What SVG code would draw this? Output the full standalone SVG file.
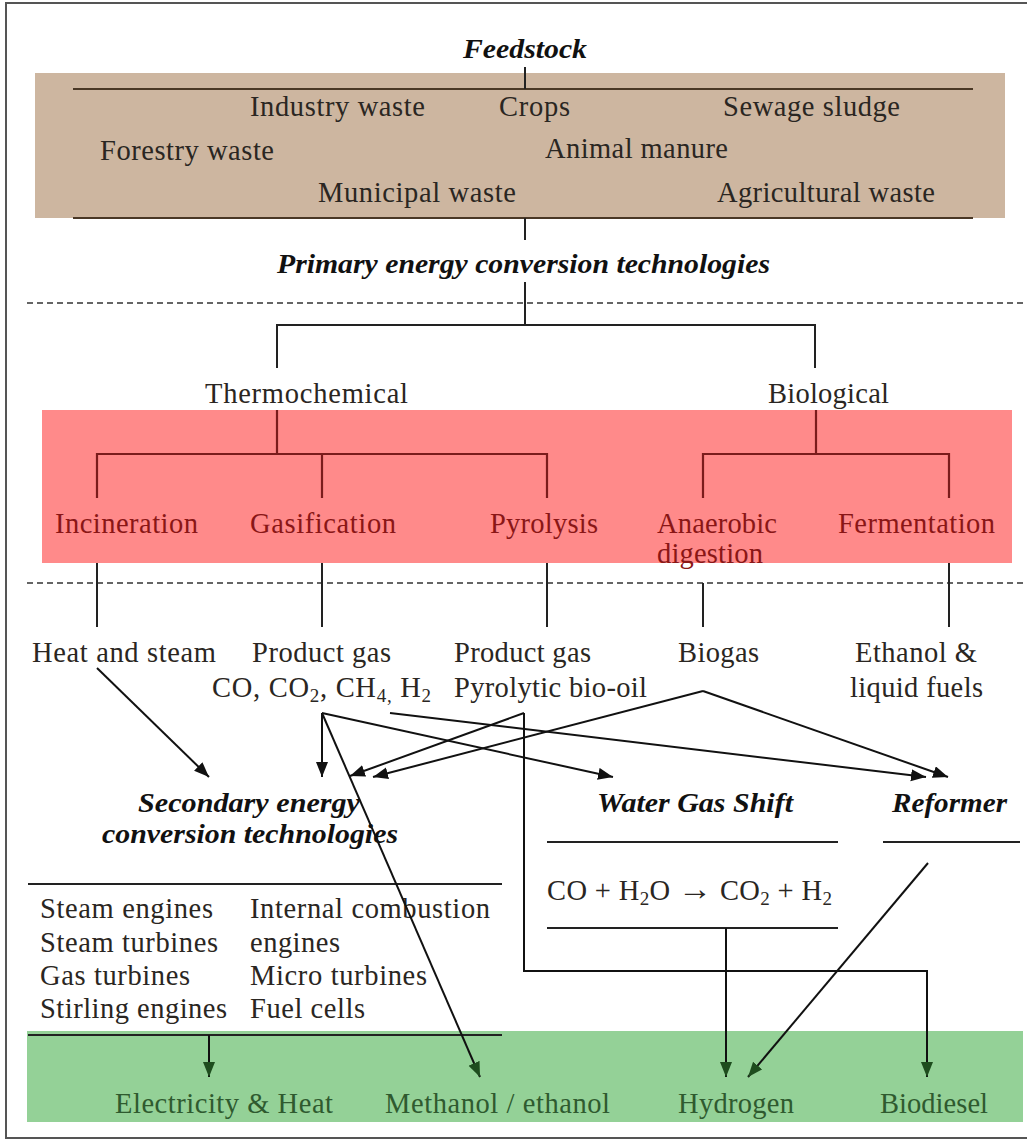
<svg xmlns="http://www.w3.org/2000/svg" width="1027" height="1141" viewBox="0 0 1027 1141">
<defs>
<style>
.t{font-family:"Liberation Serif","Times New Roman",serif;font-size:28.5px;fill:#2a2622}
.h{font-family:"Liberation Serif","Times New Roman",serif;font-size:27px;font-weight:bold;font-style:italic;fill:#111}
.r{fill:#8a1616}
.g{fill:#2f5a2f}
.ln{stroke:#222;stroke-width:2;fill:none}
.br{stroke:#4a3826;stroke-width:2.2;fill:none}
.rl{stroke:#7a1c1c;stroke-width:2.2;fill:none}
.dash{stroke:#333;stroke-width:1.5;stroke-dasharray:6 4;fill:none}
.ar{stroke:#111;stroke-width:2;fill:none;marker-end:url(#ah)}
.ag{stroke:#111;stroke-width:2;fill:none;marker-end:url(#ahg)}
</style>
<marker id="ah" markerUnits="userSpaceOnUse" markerWidth="16" markerHeight="14" refX="15" refY="6" orient="auto"><path d="M0,0 L15,6 L0,12 z" fill="#111"/></marker>
<marker id="ahg" markerUnits="userSpaceOnUse" markerWidth="16" markerHeight="14" refX="15" refY="6" orient="auto"><path d="M0,0 L15,6 L0,12 z" fill="#1e4d1e"/></marker>
</defs>
<rect x="0" y="0" width="1027" height="1141" fill="#fff"/>
<rect x="6" y="3" width="1030" height="1135" fill="none" stroke="#555" stroke-width="2"/>

<g id="bands">
<rect x="35" y="73" width="970" height="145" fill="#cdb6a0"/>
<rect x="42" y="410" width="970" height="153" fill="#ff8a8a"/>
<rect x="27" y="1031" width="996" height="91" fill="#94d197"/>
</g>

<g id="feedstock">
<text class="h" x="463" y="58" textLength="124" lengthAdjust="spacingAndGlyphs">Feedstock</text>
<line class="br" x1="73" y1="89" x2="973" y2="89"/>
<line class="br" x1="73" y1="218" x2="973" y2="218"/>
<text class="t" x="250" y="116" textLength="175">Industry waste</text>
<text class="t" x="499" y="116" textLength="71">Crops</text>
<text class="t" x="723" y="116" textLength="177">Sewage sludge</text>
<text class="t" x="100" y="160" textLength="174">Forestry waste</text>
<text class="t" x="545" y="158" textLength="183">Animal manure</text>
<text class="t" x="318" y="202" textLength="198">Municipal waste</text>
<text class="t" x="717" y="202" textLength="218">Agricultural waste</text>
</g>

<g id="primary">
<text class="h" x="277" y="273" textLength="493" lengthAdjust="spacingAndGlyphs">Primary energy conversion technologies</text>
</g>
<line class="dash" x1="27" y1="303" x2="1027" y2="303"/>
<line class="dash" x1="27" y1="583" x2="1027" y2="583"/>

<g id="thermochemical"><text class="t" x="205" y="403" textLength="203">Thermochemical</text></g>
<g id="biological"><text class="t" x="768" y="403" textLength="121">Biological</text></g>

<g id="incineration"><text class="t r" x="55" y="533" textLength="143">Incineration</text></g>
<g id="gasification"><text class="t r" x="250" y="533" textLength="146">Gasification</text></g>
<g id="pyrolysis"><text class="t r" x="490" y="533" textLength="108">Pyrolysis</text></g>
<g id="anaerobic"><text class="t r" x="657" y="533" textLength="120">Anaerobic</text><text class="t r" x="657" y="563" textLength="106">digestion</text></g>
<g id="fermentation"><text class="t r" x="838" y="533" textLength="157">Fermentation</text></g>

<g id="heat-steam"><text class="t" x="32" y="662" textLength="184">Heat and steam</text></g>
<g id="product-gas-1"><text class="t" x="252" y="662" textLength="139">Product gas</text>
<text class="t" x="212" y="697" textLength="219">CO, CO<tspan font-size="19" dy="5">2</tspan><tspan dy="-5">, CH</tspan><tspan font-size="19" dy="5">4,</tspan><tspan dy="-5"> H</tspan><tspan font-size="19" dy="5">2</tspan></text></g>
<g id="product-gas-2"><text class="t" x="454" y="662" textLength="137">Product gas</text>
<text class="t" x="454" y="697" textLength="193">Pyrolytic bio-oil</text></g>
<g id="biogas"><text class="t" x="678" y="662" textLength="81">Biogas</text></g>
<g id="ethanol-liquid"><text class="t" x="855" y="662" textLength="122">Ethanol &amp;</text>
<text class="t" x="850" y="697" textLength="133">liquid fuels</text></g>

<g id="secondary">
<text class="h" x="138" y="812" textLength="222" lengthAdjust="spacingAndGlyphs">Secondary energy</text>
<text class="h" x="102" y="843" textLength="296" lengthAdjust="spacingAndGlyphs">conversion technologies</text>
<line class="ln" x1="28" y1="884" x2="502" y2="884"/>
<line class="ln" x1="28" y1="1035" x2="502" y2="1035"/>
<text class="t" x="40" y="918" textLength="173">Steam engines</text>
<text class="t" x="40" y="952" textLength="178">Steam turbines</text>
<text class="t" x="40" y="985" textLength="150">Gas turbines</text>
<text class="t" x="40" y="1018" textLength="187">Stirling engines</text>
<text class="t" x="250" y="918" textLength="240">Internal combustion</text>
<text class="t" x="250" y="952" textLength="90">engines</text>
<text class="t" x="250" y="985" textLength="177">Micro turbines</text>
<text class="t" x="250" y="1018" textLength="115">Fuel cells</text>
</g>

<g id="water-gas-shift">
<text class="h" x="597" y="812" textLength="196" lengthAdjust="spacingAndGlyphs">Water Gas Shift</text>
<line class="ln" x1="547" y1="842" x2="838" y2="842"/>
<text class="t" x="547" y="900" textLength="285">CO + H<tspan font-size="19" dy="5">2</tspan><tspan dy="-5">O </tspan><tspan font-size="34">→</tspan><tspan> CO</tspan><tspan font-size="19" dy="5">2</tspan><tspan dy="-5"> + H</tspan><tspan font-size="19" dy="5">2</tspan></text>
<line class="ln" x1="547" y1="928" x2="838" y2="928"/>
</g>

<g id="reformer">
<text class="h" x="892" y="812" textLength="115" lengthAdjust="spacingAndGlyphs">Reformer</text>
<line class="ln" x1="883" y1="842" x2="1020" y2="842"/>
</g>

<g id="electricity-heat"><text class="t g" x="115" y="1113" textLength="218">Electricity &amp; Heat</text></g>
<g id="methanol-ethanol"><text class="t g" x="385" y="1113" textLength="225">Methanol / ethanol</text></g>
<g id="hydrogen"><text class="t g" x="678" y="1113" textLength="116">Hydrogen</text></g>
<g id="biodiesel"><text class="t g" x="880" y="1113" textLength="108">Biodiesel</text></g>

<g id="connectors">
<line class="ln" x1="525" y1="67" x2="525" y2="89"/>
<line class="ln" x1="525" y1="218" x2="525" y2="240"/>
<polyline class="ln" points="525,282 525,325"/>
<polyline class="ln" points="277,368 277,325 815,325 815,368"/>
<line class="rl" x1="277" y1="410" x2="277" y2="454"/>
<polyline class="rl" points="97,498 97,454 547,454 547,498"/>
<line class="rl" x1="322" y1="454" x2="322" y2="498"/>
<line class="rl" x1="816" y1="410" x2="816" y2="454"/>
<polyline class="rl" points="703,498 703,454 949,454 949,498"/>
<line class="ln" x1="97" y1="563" x2="97" y2="627"/>
<line class="ln" x1="322" y1="563" x2="322" y2="627"/>
<line class="ln" x1="547" y1="563" x2="547" y2="627"/>
<line class="ln" x1="703" y1="583" x2="703" y2="627"/>
<line class="ln" x1="949" y1="563" x2="949" y2="627"/>

<line class="ar" x1="97" y1="668" x2="209" y2="777"/>
<line class="ar" x1="322" y1="713" x2="322" y2="777"/>
<line class="ar" x1="322" y1="713" x2="613" y2="777"/>
<line class="ag" x1="322" y1="713" x2="480" y2="1077"/>
<line class="ar" x1="390" y1="713" x2="926" y2="777"/>
<line class="ar" x1="524" y1="713" x2="350" y2="776"/>
<line class="ar" x1="703" y1="691" x2="373" y2="777"/>
<line class="ar" x1="703" y1="691" x2="948" y2="777"/>
<polyline class="ag" points="524,713 524,971 927,971 927,1077"/>
<line class="ag" x1="726" y1="928" x2="726" y2="1077"/>
<line class="ag" x1="928" y1="863" x2="748" y2="1077"/>
<line class="ag" x1="209" y1="1035" x2="209" y2="1077"/>
</g>
</svg>
